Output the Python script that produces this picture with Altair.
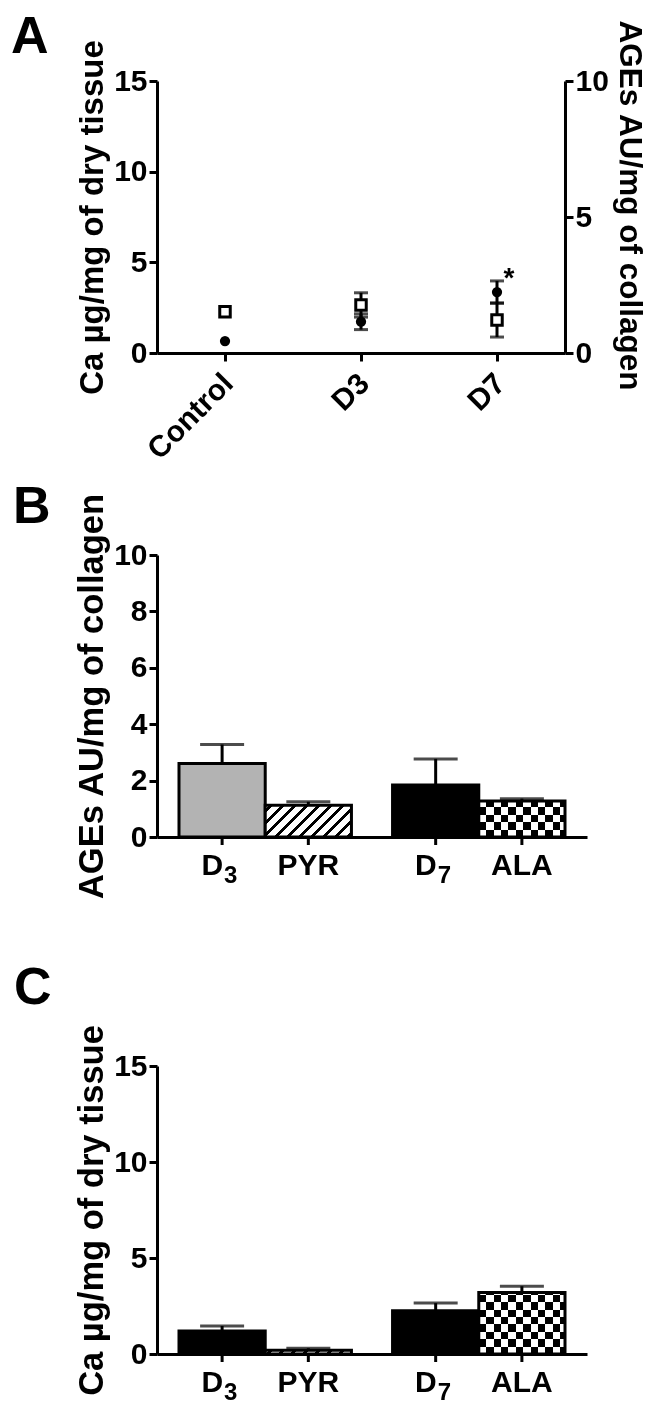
import altair as alt
import pandas as pd

FONT = "Liberation Sans"

# ---------------- Panel A data ----------------
a_cats = ["Control", "D3", "D7"]
a_sq = [2.28, 2.65, 1.82]        # open squares (left axis)
a_sq_err = [0.0, 0.67, 0.94]
a_ci = [0.44, 1.15, 2.24]        # filled circles (right axis)
a_ci_err = [0.0, 0.29, 0.41]
a_star = ["", "", "*"]

# ---------------- Panels B / C data ----------------
bar_labels = ["D3", "PYR", "D7", "ALA"]
bar_group = ["day 3", "day 3", "day 7", "day 7"]
bar_slot = ["first", "second", "first", "second"]
bar_main = ["D", "PYR", "D", "ALA"]
bar_sub = ["3", "", "7", ""]
b_ages = [2.61, 1.13, 1.84, 1.28]
b_ages_err = [0.67, 0.12, 0.93, 0.08]
c_ca = [1.2, 0.2, 2.25, 3.2]
c_ca_err = [0.26, 0.1, 0.4, 0.33]

BLACK = "black"


def yaxis(orient, values, title, title_size=33, title_y=None):
    kw = dict(orient=orient, values=values, title=title, grid=False,
              labelFontSize=30, labelFontWeight="bold", labelColor=BLACK,
              labelFont=FONT, titleFont=FONT, titleFontSize=title_size,
              titleFontWeight="bold", titleColor=BLACK, tickSize=8,
              tickWidth=3, tickColor=BLACK, domainWidth=3, domainColor=BLACK,
              labelPadding=2, titlePadding=4, format="d")
    if title_y is not None:
        kw["titleY"] = title_y
    return alt.Axis(**kw)


def letter_layer(letter, x, y):
    return alt.Chart(pd.DataFrame({"letter": [letter]})).mark_text(
        font=FONT, fontSize=52, fontWeight="bold", align="left",
        baseline="alphabetic", color=BLACK
    ).encode(text="letter:N", x=alt.value(x), y=alt.value(y))


# ---------------- Panel A ----------------
W_A, H_A = 408, 272
dfA = pd.DataFrame({"cat": a_cats, "sq": a_sq, "sq_err": a_sq_err,
                    "ci": a_ci, "ci_err": a_ci_err, "star": a_star})
baseA = alt.Chart(dfA).transform_calculate(
    sq_lo="datum.sq - datum.sq_err", sq_hi="datum.sq + datum.sq_err",
    ci_lo="datum.ci - datum.ci_err", ci_hi="datum.ci + datum.ci_err")

xA = alt.X("cat:N", sort=a_cats,
           scale=alt.Scale(paddingInner=0, paddingOuter=0),
           axis=alt.Axis(title=None, labelAngle=-45, labelFontSize=30,
                         labelFontWeight="bold", labelFont=FONT,
                         labelColor=BLACK, tickSize=8, tickWidth=3,
                         tickColor=BLACK, domainWidth=3, domainColor=BLACK,
                         labelPadding=7, labelOffset=-7, labelOverlap=False))
scL = alt.Scale(domain=[0, 15], nice=False)
axL = yaxis("left", [0, 5, 10, 15], "Ca µg/mg of dry tissue", 33)
scR = alt.Scale(domain=[0, 10], nice=False)
axR = yaxis("right", [0, 5, 10], "AGEs AU/mg of collagen", 31.5, title_y=124)

errA_L = baseA.transform_filter("datum.sq_err > 0").mark_rule(
    color=BLACK, strokeWidth=3).encode(
    x=xA, y=alt.Y("sq_lo:Q", scale=scL, axis=axL), y2="sq_hi:Q")
capA_L1 = baseA.transform_filter("datum.sq_err > 0").mark_tick(
    color=BLACK, thickness=3, size=14).encode(
    x=xA, y=alt.Y("sq_hi:Q", scale=scL, axis=axL))
capA_L2 = baseA.transform_filter("datum.sq_err > 0").mark_tick(
    color=BLACK, thickness=3, size=14).encode(
    x=xA, y=alt.Y("sq_lo:Q", scale=scL, axis=axL))
squares = baseA.mark_square(fill="white", stroke=BLACK, strokeWidth=3,
                            size=110, opacity=1).encode(
    x=xA, y=alt.Y("sq:Q", scale=scL, axis=axL))

errA_R = baseA.transform_filter("datum.ci_err > 0").mark_rule(
    color=BLACK, strokeWidth=3).encode(
    x=xA, y=alt.Y("ci_lo:Q", scale=scR, axis=axR), y2="ci_hi:Q")
capA_R1 = baseA.transform_filter("datum.ci_err > 0").mark_tick(
    color=BLACK, thickness=3, size=14).encode(
    x=xA, y=alt.Y("ci_hi:Q", scale=scR, axis=axR))
capA_R2 = baseA.transform_filter("datum.ci_err > 0").mark_tick(
    color=BLACK, thickness=3, size=14).encode(
    x=xA, y=alt.Y("ci_lo:Q", scale=scR, axis=axR))
circles = baseA.mark_circle(color=BLACK, size=105, opacity=1).encode(
    x=xA, y=alt.Y("ci:Q", scale=scR, axis=axR))
star = baseA.transform_filter("datum.star != ''").mark_text(
    font=FONT, fontSize=28, fontWeight="bold", dx=12, dy=6,
    align="center", baseline="alphabetic", color=BLACK).encode(
    x=xA, y=alt.Y("ci_hi:Q", scale=scR, axis=axR), text="star:N")

right_layer = alt.layer(errA_R, capA_R1, capA_R2, circles, star)
left_layer = alt.layer(errA_L, capA_L1, capA_L2, squares)
panelA = alt.layer(right_layer, left_layer,
                   letter_layer("A", -146, -28)).resolve_scale(
    y="independent").properties(width=W_A, height=H_A)


# ---------------- Panels B / C helpers ----------------
W_B = 430
P_IN, P_OUT = 0.1925, 0.103
STEP = W_B / (2 - P_IN + 2 * P_OUT)
BAR_W = STEP * (1 - P_IN) / 2


def checker_cols(W, cell=7.4):
    stops, k = [], 0
    while k * cell < W:
        a, b = k * cell / W, min(1.0, (k + 1) * cell / W)
        col = BLACK if k % 2 == 0 else "white"
        stops += [{"offset": a, "color": col}, {"offset": b, "color": col}]
        k += 1
    return {"gradient": "linear", "x1": 0, "y1": 0, "x2": 1, "y2": 0,
            "stops": stops}


def checker_rows(H, cell=7.4):
    stops, k = [], 0
    while k * cell < H:
        a, b = k * cell / H, min(1.0, (k + 1) * cell / H)
        col = "white" if k % 2 == 0 else "rgba(255,255,255,0)"
        stops += [{"offset": a, "color": col}, {"offset": b, "color": col}]
        k += 1
    return {"gradient": "linear", "x1": 0, "y1": 1, "x2": 0, "y2": 0,
            "stops": stops}


def hatch(W, H, spacing=12.0, lw=3.4):
    H = max(H, 1.0)
    r = H / W
    k = (1 + r) / (1 + r * r)
    total = W + H
    stops = [{"offset": 0, "color": "white"}]
    c = spacing / 2
    while c - lw / 2 < total:
        a = max(0.0, (c - lw / 2) / total)
        b = min(1.0, (c + lw / 2) / total)
        stops += [{"offset": a, "color": "white"}, {"offset": a, "color": BLACK},
                  {"offset": b, "color": BLACK}, {"offset": b, "color": "white"}]
        c += spacing
    stops.append({"offset": 1, "color": "white"})
    return {"gradient": "linear", "x1": 0, "y1": 0, "x2": k, "y2": k * r,
            "stops": stops}


def bar_panel(values, errs, ymax, yticks, title, title_size, H, d3_fill,
              letter, lx, ly):
    df = pd.DataFrame({"label": bar_labels, "group": bar_group,
                       "slot": bar_slot, "main": bar_main, "sub": bar_sub,
                       "val": values, "err": errs})
    base = alt.Chart(df).transform_calculate(hi="datum.val + datum.err")
    x = alt.X("group:N", sort=["day 3", "day 7"],
              scale=alt.Scale(paddingInner=P_IN, paddingOuter=P_OUT),
              axis=alt.Axis(title=None, labels=False, ticks=False,
                            domainWidth=3, domainColor=BLACK))
    xo = alt.XOffset("slot:N", sort=["first", "second"],
                     scale=alt.Scale(paddingInner=0, paddingOuter=0))
    sc = alt.Scale(domain=[0, ymax], nice=False)
    ax = yaxis("left", yticks, title, title_size)
    y = alt.Y("val:Q", scale=sc, axis=ax)

    def px(v):
        return v / ymax * H

    layers = []
    fills = {"D3": d3_fill, "D7": BLACK}
    for i, lab in enumerate(bar_labels):
        b = base.transform_filter(alt.datum.label == lab)
        hpx = px(values[i])
        if lab in fills:
            layers.append(b.mark_bar(fill=fills[lab], stroke=BLACK,
                                     strokeWidth=3).encode(x=x, xOffset=xo, y=y))
        elif lab == "PYR":
            layers.append(b.mark_bar(fill=hatch(BAR_W, hpx), stroke=BLACK,
                                     strokeWidth=3).encode(x=x, xOffset=xo, y=y))
        else:
            layers.append(b.mark_bar(fill=checker_cols(BAR_W), strokeWidth=0)
                          .encode(x=x, xOffset=xo, y=y))
            layers.append(b.mark_bar(fill=checker_rows(hpx), strokeWidth=0,
                                     blend="difference")
                          .encode(x=x, xOffset=xo, y=y))
            layers.append(b.mark_bar(fill="white", fillOpacity=0, stroke=BLACK,
                                     strokeWidth=3)
                          .encode(x=x, xOffset=xo, y=y))
    err = base.mark_rule(color=BLACK, strokeWidth=3).encode(
        x=x, xOffset=xo, y=y, y2="hi:Q")
    cap = base.mark_tick(color=BLACK, thickness=3, size=44).encode(
        x=x, xOffset=xo, y=alt.Y("hi:Q", scale=sc, axis=ax))
    ticks = base.mark_rule(color=BLACK, strokeWidth=3).encode(
        x=x, xOffset=xo, y=alt.value(H), y2=alt.value(H + 8))
    lab_plain = base.transform_filter("datum.sub == ''").mark_text(
        font=FONT, fontSize=30, fontWeight="bold", align="center",
        baseline="alphabetic", color=BLACK).encode(
        x=x, xOffset=xo, y=alt.value(H + 38), text="main:N")
    lab_d = base.transform_filter("datum.sub != ''").mark_text(
        font=FONT, fontSize=30, fontWeight="bold", align="right",
        baseline="alphabetic", color=BLACK, dx=1).encode(
        x=x, xOffset=xo, y=alt.value(H + 38), text="main:N")
    lab_sub = base.transform_filter("datum.sub != ''").mark_text(
        font=FONT, fontSize=24, fontWeight="bold", align="left",
        baseline="alphabetic", color=BLACK, dx=2).encode(
        x=x, xOffset=xo, y=alt.value(H + 46), text="sub:N")
    layers += [err, cap, ticks, lab_plain, lab_d, lab_sub,
               letter_layer(letter, lx, ly)]
    return alt.layer(*layers).properties(width=W_B, height=H)


panelB = bar_panel(b_ages, b_ages_err, 10, [0, 2, 4, 6, 8, 10],
                   "AGEs AU/mg of collagen", 34.5, 282, "#b3b3b3", "B",
                   -144, -32)
panelC = bar_panel(c_ca, c_ca_err, 15, [0, 5, 10, 15],
                   "Ca µg/mg of dry tissue", 34.5, 288, BLACK, "C",
                   -143, -62)

chart = alt.vconcat(
    panelA,
    alt.vconcat(panelB, panelC, spacing=62),
    spacing=16,
).properties(
    padding={"left": 3, "top": 3, "right": 5, "bottom": 0},
    background="white",
).configure(font=FONT).configure_view(stroke=None)

chart.save("out.html", embed_options={"renderer": "svg", "actions": False})
